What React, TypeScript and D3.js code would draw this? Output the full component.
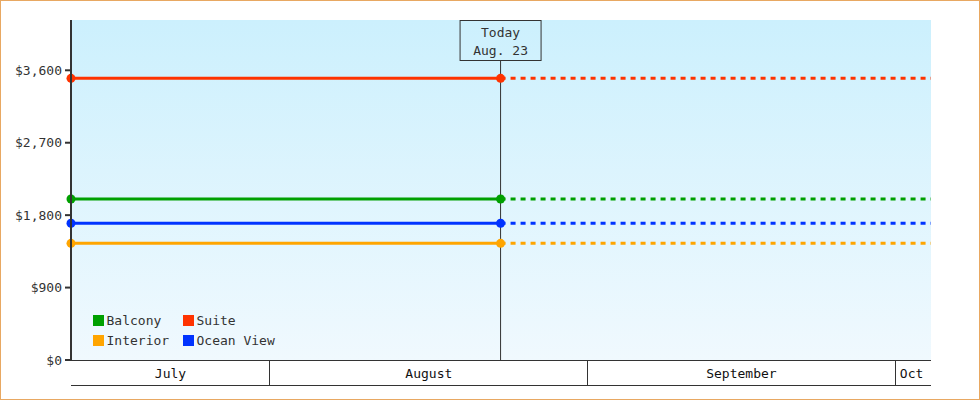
import * as d3 from 'd3'

// chart values
const seriesNames = ['Balcony', 'Suite', 'Interior', 'Ocean View']
const seriesColors = ['#00a000', '#ff3300', '#ffa500', '#0033ff']
const seriesPrices = [2000, 3500, 1450, 1700]

const startDate = new Date(2024, 6, 12, 14)
const todayDate = new Date(2024, 7, 23, 12)
const endDate = new Date(2024, 9, 4, 12)

const monthStarts = [new Date(2024, 6, 12, 14), new Date(2024, 7, 1), new Date(2024, 8, 1), new Date(2024, 9, 1)]
const monthLabels = ['July', 'August', 'September', 'Oct']

const yTicks = [0, 900, 1800, 2700, 3600]
const yMax = 4225

const W = 980
const H = 400
const left = 71
const right = 931
const top = 20
const bottom = 360
const font = '"DejaVu Sans Mono", monospace'
const ink = '#333333'

export default function App() {
    const x = d3.scaleTime().domain([startDate, endDate]).range([left, right])
    const y = d3.scaleLinear().domain([0, yMax]).range([bottom, top])
    const fmt = (v: number) => '$' + d3.format(',')(v)
    const line = d3.line<[Date, number]>()
        .x(d => x(d[0]))
        .y(d => y(d[1]))

    const tx = x(todayDate)
    const bands = monthStarts.map((d, i) => [d, monthStarts[i + 1] || endDate] as [Date, Date])

    return (
        <div style={{ position: 'absolute', left: 0, top: 0 }}>
            <svg width={W} height={H} style={{ display: 'block', fontFamily: font }}>
                <defs>
                    <linearGradient id="bg" x1="0" y1="0" x2="0" y2="1">
                        <stop offset="0" stopColor="#ccf0fd" />
                        <stop offset="1" stopColor="#f0f9fe" />
                    </linearGradient>
                </defs>
                <rect x={0.5} y={0.5} width={W - 1} height={H - 1} fill="#fff" stroke="#e8a862" />
                <rect x={left} y={top} width={right - left} height={bottom - top} fill="url(#bg)" />

                {/* today marker */}
                <line x1={tx} x2={tx} y1={61} y2={bottom} stroke={ink} strokeWidth={1} />
                <rect x={tx - 40.5} y={20.5} width={81} height={40} fill="none" stroke={ink} strokeWidth={1} />
                <text x={tx} y={37} textAnchor="middle" fontSize={13} fill={ink}>Today</text>
                <text x={tx} y={55} textAnchor="middle" fontSize={13} fill={ink}>{d3.timeFormat('%b. %-d')(todayDate)}</text>

                {/* series */}
                {seriesNames.map((name, i) => {
                    const p = seriesPrices[i]
                    const past: [Date, number][] = [[startDate, p], [todayDate, p]]
                    const future: [Date, number][] = [[todayDate, p], [endDate, p]]
                    return (
                        <g key={name}>
                            <path d={line(past) || ''} fill="none" stroke={seriesColors[i]} strokeWidth={3} />
                            <path d={line(future) || ''} fill="none" stroke={seriesColors[i]} strokeWidth={3} strokeDasharray="5,5" />
                            {past.map((d, j) => (
                                <circle key={j} cx={x(d[0])} cy={y(d[1])} r={4.5} fill={seriesColors[i]} />
                            ))}
                        </g>
                    )
                })}

                {/* y axis */}
                <line x1={left} x2={left} y1={top} y2={bottom + 1} stroke={ink} strokeWidth={2} />
                {yTicks.map(t => (
                    <g key={t}>
                        <line x1={left - 6} x2={left} y1={y(t)} y2={y(t)} stroke={ink} strokeWidth={2} />
                        <text x={62} y={y(t) + 4.5} textAnchor="end" fontSize={13} fill={ink}>{fmt(t)}</text>
                    </g>
                ))}

                {/* month bands */}
                <line x1={left} x2={right} y1={bottom + 0.5} y2={bottom + 0.5} stroke={ink} strokeWidth={1} />
                <line x1={left} x2={right} y1={385.5} y2={385.5} stroke={ink} strokeWidth={1} />
                {bands.map((b, i) => (
                    <g key={monthLabels[i]}>
                        {i > 0 && <line x1={Math.floor(x(b[0])) + 0.5} x2={Math.floor(x(b[0])) + 0.5} y1={bottom} y2={385} stroke={ink} strokeWidth={1} />}
                        <text x={(x(b[0]) + x(b[1])) / 2 - (i === bands.length - 1 ? 1.5 : 0)} y={378} textAnchor="middle" fontSize={13} fill="#111">{monthLabels[i]}</text>
                    </g>
                ))}

                {/* legend */}
                {seriesNames.map((name, i) => {
                    const lx = i % 2 === 0 ? 93 : 183
                    const ly = i < 2 ? 315 : 335
                    return (
                        <g key={name}>
                            <rect x={lx} y={ly} width={11} height={11} fill={seriesColors[i]} />
                            <text x={lx + 13.5} y={ly + 10} fontSize={13} fill={ink}>{name}</text>
                        </g>
                    )
                })}
            </svg>
        </div>
    )
}
